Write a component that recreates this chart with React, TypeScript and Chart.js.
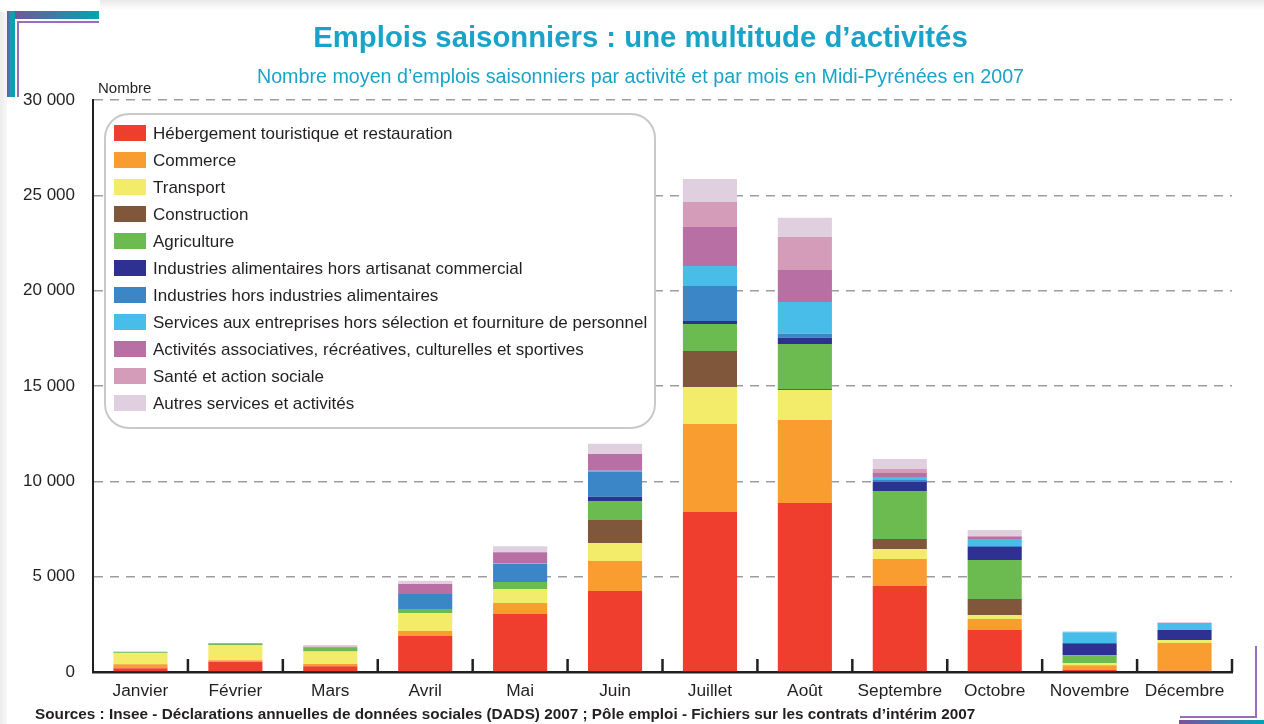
import React, { useEffect, useRef } from "react";
import { Chart, registerables } from "chart.js";

Chart.register(...registerables);

const months = ["Janvier", "Février", "Mars", "Avril", "Mai", "Juin", "Juillet", "Août", "Septembre", "Octobre", "Novembre", "Décembre"];

const hebergement = [200, 520, 300, 1890, 3040, 4250, 8390, 8860, 4510, 2200, 100, 70];
const commerce = [200, 100, 120, 260, 575, 1575, 4620, 4360, 1420, 580, 260, 1450];
const transport = [580, 790, 660, 945, 735, 945, 1940, 1570, 520, 210, 100, 160];
const construction = [0, 0, 0, 0, 0, 1205, 1890, 50, 525, 840, 0, 0];
const agriculture = [50, 100, 190, 210, 365, 1000, 1410, 2360, 2515, 2040, 420, 0];
const industriesAlim = [0, 0, 0, 0, 0, 210, 160, 330, 480, 690, 630, 520];
const industriesHors = [0, 0, 0, 790, 960, 1330, 1840, 210, 100, 50, 0, 0];
const servicesEntreprises = [30, 0, 0, 0, 35, 35, 1050, 1670, 160, 365, 580, 370];
const activitesAssoc = [0, 0, 40, 525, 575, 890, 2040, 1675, 210, 105, 0, 0];
const sante = [0, 0, 30, 0, 0, 0, 1310, 1735, 210, 50, 0, 0];
const autres = [20, 0, 80, 160, 315, 525, 1210, 1000, 520, 320, 50, 50];

const seriesLabels = [
  "Hébergement touristique et restauration",
  "Commerce",
  "Transport",
  "Construction",
  "Agriculture",
  "Industries alimentaires hors artisanat commercial",
  "Industries hors industries alimentaires",
  "Services aux entreprises hors sélection et fourniture de personnel",
  "Activités associatives, récréatives, culturelles et sportives",
  "Santé et action sociale",
  "Autres services et activités",
];
const seriesValues = [hebergement, commerce, transport, construction, agriculture, industriesAlim, industriesHors, servicesEntreprises, activitesAssoc, sante, autres];
const seriesColors = ["#ef3e2e", "#f99d31", "#f3ec6a", "#80573a", "#6bbb51", "#2e3192", "#3a86c6", "#48bde9", "#b86fa3", "#d59cba", "#e0d0df"];

const yTicks = [0, 5000, 10000, 15000, 20000, 25000, 30000];

const FONT = "'Liberation Sans', Arial, Helvetica, sans-serif";
const INK = "#231f20";
const CYAN = "#1aa3c8";

const separatorPlugin = {
  id: "separators",
  afterDraw(chart: any) {
    const { ctx, chartArea } = chart;
    const n = months.length;
    const w = (chartArea.right - chartArea.left) / n;
    ctx.save();
    ctx.strokeStyle = INK;
    ctx.lineWidth = 2.5;
    for (let i = 1; i <= n; i++) {
      const x = chartArea.left + i * w;
      ctx.beginPath();
      ctx.moveTo(x, chartArea.bottom);
      ctx.lineTo(x, chartArea.bottom - 13);
      ctx.stroke();
    }
    ctx.restore();
  },
};

const legendPlugin = {
  id: "boxLegend",
  afterDatasetsDraw(chart: any) {
    const { ctx } = chart;
    ctx.save();
    ctx.beginPath();
    ctx.roundRect(105, 114, 550, 314, 24);
    ctx.fillStyle = "#ffffff";
    ctx.fill();
    ctx.lineWidth = 2;
    ctx.strokeStyle = "#c9c9c9";
    ctx.stroke();
    ctx.font = `17px ${FONT}`;
    ctx.textBaseline = "middle";
    ctx.textAlign = "left";
    chart.data.datasets.forEach((ds: any, i: number) => {
      const yc = 133 + i * 27;
      ctx.fillStyle = ds.backgroundColor;
      ctx.fillRect(114, yc - 8, 32, 16);
      ctx.fillStyle = INK;
      ctx.fillText(ds.label, 153, yc + 1);
    });
    ctx.restore();
  },
};

export default function App() {
  const canvasRef = useRef<HTMLCanvasElement>(null);

  useEffect(() => {
    document.body.style.margin = "0";
    const canvas = canvasRef.current!;
    const chart = new Chart(canvas, {
      type: "bar",
      data: {
        labels: months,
        datasets: seriesLabels.map((label, i) => ({
          label,
          data: seriesValues[i],
          backgroundColor: seriesColors[i],
          borderWidth: 0,
          barPercentage: 0.57,
          categoryPercentage: 1,
        })),
      },
      options: {
        responsive: false,
        animation: false,
        events: [],
        layout: { padding: { left: 0, right: 32, top: 100, bottom: 0 } },
        plugins: {
          legend: { display: false },
          tooltip: { enabled: false },
          title: { display: false },
        },
        scales: {
          x: {
            stacked: true,
            grid: { display: false },
            border: { display: true, color: INK, width: 2.5 },
            ticks: { color: INK, font: { family: FONT, size: 17.3 }, padding: 1, maxRotation: 0, autoSkip: false },
            afterFit: (s: any) => {
              s.height = 52;
            },
          },
          y: {
            stacked: true,
            min: 0,
            max: 30000,
            afterBuildTicks: (s: any) => {
              s.ticks = yTicks.map((v) => ({ value: v }));
            },
            ticks: {
              color: INK,
              font: { family: FONT, size: 17 },
              padding: 18,
              callback: (v: any) => {
                const n = Number(v);
                if (n === 0) return "0";
                const th = Math.floor(n / 1000);
                const rest = String(n % 1000).padStart(3, "0");
                return `${th} ${rest}`;
              },
            },
            grid: {
              drawTicks: false,
              color: (c: any) => (c.tick && c.tick.value === 0 ? "rgba(0,0,0,0)" : "#9d9d9d"),
              lineWidth: 1.5,
            },
            border: { display: true, color: INK, width: 2, dash: [9, 7] },
            afterFit: (s: any) => {
              s.width = 93;
            },
          },
        },
      },
      plugins: [separatorPlugin, legendPlugin],
    });
    return () => chart.destroy();
  }, []);

  const abs = (o: any): React.CSSProperties => ({ position: "absolute", ...o });

  return (
    <div style={{ position: "relative", width: 1264, height: 724, overflow: "hidden", background: "#fff", fontFamily: FONT }}>
      {/* light frame shading */}
      <div style={abs({ left: 100, top: 0, width: 1164, height: 10, background: "linear-gradient(to bottom, #e9e9e9, #ffffff)" })} />
      <div style={abs({ left: 0, top: 12, width: 7, height: 712, background: "linear-gradient(to right, #ececec, #f7f7f7)" })} />
      {/* top-left decoration */}
      <div style={abs({ left: 7, top: 11, width: 92, height: 8, background: "linear-gradient(to right, #7b4f9e, #00a3b7)" })} />
      <div style={abs({ left: 7, top: 11, width: 8, height: 86, background: "linear-gradient(to right, #7b4f9e 0%, #1d98b4 45%, #00a3b7 100%)" })} />
      <div style={abs({ left: 17, top: 21, width: 82, height: 2, background: "#9a6cc0" })} />
      <div style={abs({ left: 17, top: 21, width: 2, height: 76, background: "#9a6cc0" })} />
      {/* bottom-right decoration */}
      <div style={abs({ left: 1180, top: 716, width: 77, height: 2, background: "#9a6cc0" })} />
      <div style={abs({ left: 1255, top: 646, width: 2, height: 72, background: "#9a6cc0" })} />
      <div style={abs({ left: 1179, top: 720, width: 85, height: 4, background: "linear-gradient(to right, #7b4f9e, #00a3b7)" })} />

      <canvas ref={canvasRef} width={1264} height={724} style={abs({ left: 0, top: 0, width: 1264, height: 724 })} />

      <div style={abs({ left: 140, top: 20, width: 1001, textAlign: "center", color: CYAN, fontWeight: "bold", fontSize: 29.3, lineHeight: "34px", whiteSpace: "nowrap" })}>
        Emplois saisonniers : une multitude d’activités
      </div>
      <div style={abs({ left: 140, top: 64, width: 1001, textAlign: "center", color: CYAN, fontSize: 19.7, lineHeight: "24px", whiteSpace: "nowrap" })}>
        Nombre moyen d’emplois saisonniers par activité et par mois en Midi-Pyrénées en 2007
      </div>
      <div style={abs({ left: 98, top: 79, color: INK, fontSize: 15, lineHeight: "18px", whiteSpace: "nowrap" })}>Nombre</div>
      <div style={abs({ left: 35, top: 705, color: INK, fontSize: 15.3, fontWeight: "bold", lineHeight: "18px", whiteSpace: "nowrap" })}>
        Sources : Insee - Déclarations annuelles de données sociales (DADS) 2007 ; Pôle emploi - Fichiers sur les contrats d’intérim 2007
      </div>
    </div>
  );
}
